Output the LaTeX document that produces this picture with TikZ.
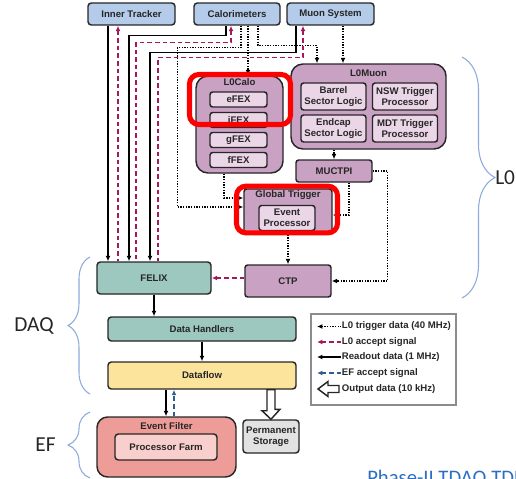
\documentclass[tikz,border=0pt]{standalone}
\usepackage{fontspec}
\setmainfont{Liberation Sans}
\newfontfamily\slidefont{Carlito}
\usepackage{xcolor}
\usetikzlibrary{arrows.meta,positioning,calc,decorations.pathreplacing}

\definecolor{srcblue}{HTML}{B4CBE9}
\definecolor{lzero}{HTML}{C9A1C2}
\definecolor{lzlight}{HTML}{EBD6E7}
\definecolor{daqteal}{HTML}{9CC8BF}
\definecolor{dfyellow}{HTML}{FDE49C}
\definecolor{efred}{HTML}{EE9C97}
\definecolor{pfpink}{HTML}{F8CFCD}
\definecolor{psgrey}{HTML}{E2E2E2}
\definecolor{accmag}{HTML}{A3195B}
\definecolor{efblue}{HTML}{2F5E8E}
\definecolor{bracecol}{HTML}{8FAADC}
\definecolor{slideblue}{HTML}{2E6EC0}
\definecolor{edge}{HTML}{262626}

\begin{document}
\begin{tikzpicture}[x=0.75pt, y=-0.75pt, >={Latex[length=4pt,width=3.6pt]}, font=\fontsize{7.2}{8.6}\selectfont\bfseries]
  \tikzstyle{blk}=[rectangle, draw=edge, line width=1.1pt, inner sep=1pt, align=center, text=edge]
  \tikzstyle{srcbox}=[blk, fill=srcblue, rounded corners=2.5pt, minimum width=65.25pt, minimum height=16.5pt]
  \tikzstyle{lzbox}=[blk, fill=lzero, rounded corners=2pt]
  \tikzstyle{subbox}=[blk, fill=lzlight, rounded corners=2pt]
  \tikzstyle{fexbox}=[subbox, minimum width=42.75pt, minimum height=11.25pt]
  \tikzstyle{musub}=[subbox, minimum width=48.75pt, minimum height=20.25pt]
  \tikzstyle{daqbox}=[blk, fill=daqteal, rounded corners=2.5pt, minimum width=141pt, minimum height=18pt]
  \tikzstyle{hlbox}=[rectangle, draw=red, line width=3.8pt, rounded corners=7pt]
  \tikzstyle{ttl}=[inner sep=0pt, text=edge]
  \tikzstyle{lt}=[anchor=west, inner sep=0.5pt, text=edge]
  \tikzstyle{rd}=[line width=1.1pt, draw=black]
  \tikzstyle{acc}=[line width=1.1pt, draw=accmag, dash pattern=on 3.5pt off 2.2pt]
  \tikzstyle{efacc}=[line width=1.1pt, draw=efblue, dash pattern=on 3.5pt off 2.2pt]
  \tikzstyle{trig}=[line width=1pt, draw=black, dash pattern=on 1pt off 1pt]
  \tikzstyle{hollow}=[line width=1.1pt, draw=edge, fill=white, line join=miter]
  \tikzstyle{brc}=[draw=bracecol, line width=0.8pt, decorate]
  \tikzstyle{side}=[font=\slidefont\fontsize{16}{18}\selectfont, text=black!85, inner sep=0pt]

  \useasboundingbox (0,0) rectangle (516,478);

  % detectors
  \node[srcbox] (it) at (131.5,14) {Inner Tracker};
  \node[srcbox, minimum width=64.5pt] (calo) at (237,14) {Calorimeters};
  \node[srcbox] (muon) at (330.5,14) {Muon System};

  % L0 trigger
  \node[lzbox, rounded corners=9pt, minimum width=65.25pt, minimum height=72.75pt] (lcalo) at (239.5,124.5) {};
  \node[ttl] (lcalot) at (239.5,82) {L0Calo};
  \node[fexbox] (efex) at (238.5,99.5) {eFEX};
  \node[fexbox] (ifex) at (238.5,120) {iFEX};
  \node[fexbox] (gfex) at (238.5,140) {gFEX};
  \node[fexbox] (ffex) at (238.5,160) {fFEX};

  \node[lzbox, rounded corners=9pt, minimum width=116.25pt, minimum height=63.75pt] (lmuon) at (368.5,106.5) {};
  \node[ttl] (lmuont) at (368.5,73) {L0Muon};
  \node[musub] (bsl) at (333.5,96.5) {Barrel\\Sector Logic};
  \node[musub] (nsw) at (405,96.5) {NSW Trigger\\Processor};
  \node[musub] (esl) at (333.5,128.5) {Endcap\\Sector Logic};
  \node[musub] (mdt) at (405,128.5) {MDT Trigger\\Processor};

  \node[lzbox, minimum width=57pt, minimum height=16.5pt] (muctpi) at (334,171) {MUCTPI};
  \node[lzbox, minimum width=66pt, minimum height=33.75pt] (glob) at (288,211.5) {};
  \node[ttl] (globt) at (288,195) {Global Trigger};
  \node[subbox, minimum width=42pt, minimum height=18.75pt] (evp) at (287,218) {Event\\Processor};
  \node[lzbox, minimum width=64.5pt, minimum height=24pt] (ctp) at (288,281) {CTP};

  % DAQ and EF
  \node[daqbox, minimum width=85.5pt, minimum height=24pt] (felix) at (154,278) {FELIX};
  \node[daqbox] (dh) at (202,329) {Data Handlers};
  \node[daqbox, fill=dfyellow, minimum height=20.25pt] (df) at (202,375.5) {Dataflow};
  \node[blk, fill=efred, rounded corners=8pt, minimum width=104.25pt, minimum height=45pt] (ef) at (166.5,447) {};
  \node[ttl] (eft) at (166.5,426) {Event Filter};
  \node[blk, fill=pfpink, rounded corners=2.5pt, minimum width=76.5pt, minimum height=19.5pt] (pf) at (166,447) {Processor Farm};
  \node[blk, fill=psgrey, rounded corners=2.5pt, minimum width=42pt, minimum height=24.75pt] (ps) at (271,436.5) {Permanent\\Storage};

  % readout data
  \draw[rd,->] ($(it.south)+(-23.5,0)$) coordinate (r1) -- (r1 |- felix.north);
  \draw[rd,->] ($(calo.south)+(-11,0)$) -- ++(0,10) -| ($(felix.north)+(-25,0)$);
  \draw[rd,->] ($(muon.south)+(-34.5,0)$) -- ++(0,27) -| ($(felix.north)+(-4,0)$);
  \draw[rd,->] (felix.south) -- (felix.south |- dh.north);
  \draw[rd,->] (dh.south) -- (df.north);
  \draw[rd,->] ($(df.south)+(-36,0)$) coordinate (r5) -- (r5 |- ef.north);

  % L0 accept
  \draw[acc,<-] ($(it.south)+(-13.5,0)$) coordinate (a1) -- (a1 |- felix.north);
  \draw[acc,<-] ($(calo.south)+(-6,0)$) -- ++(0,17) -| ($(felix.north)+(-18,0)$);
  \draw[acc,<-] ($(muon.south)+(-27.5,0)$) -- ++(0,32) -| ($(felix.north)+(4,0)$);
  \draw[acc,->] (ctp.west |- felix.east) -- (felix.east);

  % L0 trigger data
  \draw[trig,->] ($(calo.south)+(4,0)$) -- ++(0,22) -| ($(glob.west)+(-66,-4.5)$) -- ($(glob.west)+(0,-4.5)$);
  \draw[trig,->] ($(calo.south)+(11,0)$) coordinate (t2) -- (t2 |- lcalo.north);
  \draw[trig,->] ($(calo.south)+(21,0)$) -- ++(0,20) -| ($(lmuon.north)+(-51.5,0)$);
  \draw[trig,->] ($(muon.south)+(12.5,0)$) coordinate (t4) -- (t4 |- lmuon.north);
  \draw[trig,->] ($(lcalo.south)+(-15.5,0)$) |- ($(glob.west)+(0,-13.5)$);
  \draw[trig,->] (lmuon.south -| muctpi.north) -- (muctpi.north);
  \draw[trig,->] ($(muctpi.south)+(15,0)$) |- ($(glob.east)+(0,3.5)$);
  \draw[trig,->] (muctpi.east) -- ++(15,0) |- (ctp.east);
  \draw[trig,->] (glob.south) -- (ctp.north);

  % EF accept and output
  \draw[efacc,->] ($(ef.north)+(7.5,0)$) coordinate (e1) -- (e1 |- df.south);
  \draw[hollow] ($(df.south -| ps.north)+(-4,0)$) -- ++(0,21) -- ++(-5,0) -- (ps.north) -- ++(9,-10) -- ++(-5,0) -- ($(df.south -| ps.north)+(4,0)$) -- cycle;

  % legend
  \node[draw=black!45, line width=0.8pt, minimum width=108.75pt, minimum height=68.25pt] (leg) at (383.5,359.5) {};
  \node[lt] (l1) at (341,326.5) {L0 trigger data (40 MHz)};
  \node[lt] (l2) at (341,342) {L0 accept signal};
  \node[lt] (l3) at (341,357) {Readout data (1 MHz)};
  \node[lt] (l4) at (341,373) {EF accept signal};
  \node[lt] (l5) at (341,389) {Output data (10 kHz)};
  \draw[trig,<-] ($(l1.west)+(-24,0)$) -- (l1.west);
  \draw[acc,<-] ($(l2.west)+(-24,0)$) -- (l2.west);
  \draw[rd,<-] ($(l3.west)+(-24,0)$) -- (l3.west);
  \draw[efacc,<-] ($(l4.west)+(-24,0)$) -- (l4.west);
  \draw[hollow] (l5.west) ++(-2,-3.5) -- ++(-11,0) -- ++(0,-4) -- ++(-10,7.5) -- ++(10,7.5) -- ++(0,-4) -- ++(11,0) -- cycle;

  % highlights
  \node[hlbox, minimum width=75.75pt, minimum height=37.5pt] (hlcalo) at (240,99.5) {};
  \node[hlbox, minimum width=75.75pt, minimum height=35pt] (hlglob) at (287,209.5) {};

  % braces
  \draw[brc, decoration={brace, amplitude=24.75pt}] (462,57) -- (462,298);
  \draw[brc, decoration={brace, amplitude=16.5pt}] (90,394) -- (90,257);
  \draw[brc, decoration={brace, amplitude=16.5pt}] (90,478) -- (90,412);
  \node[side, anchor=west] (l0lab) at (495,178) {L0};
  \node[side] (daqlab) at (34,326) {DAQ};
  \node[side] (eflab) at (45.5,445) {EF};
  \node[font=\slidefont\fontsize{15.5}{18}\selectfont, text=slideblue, anchor=base west, inner sep=0pt] (tdr) at (367,484) {Phase-II TDAQ TDR};
\end{tikzpicture}
\end{document}
